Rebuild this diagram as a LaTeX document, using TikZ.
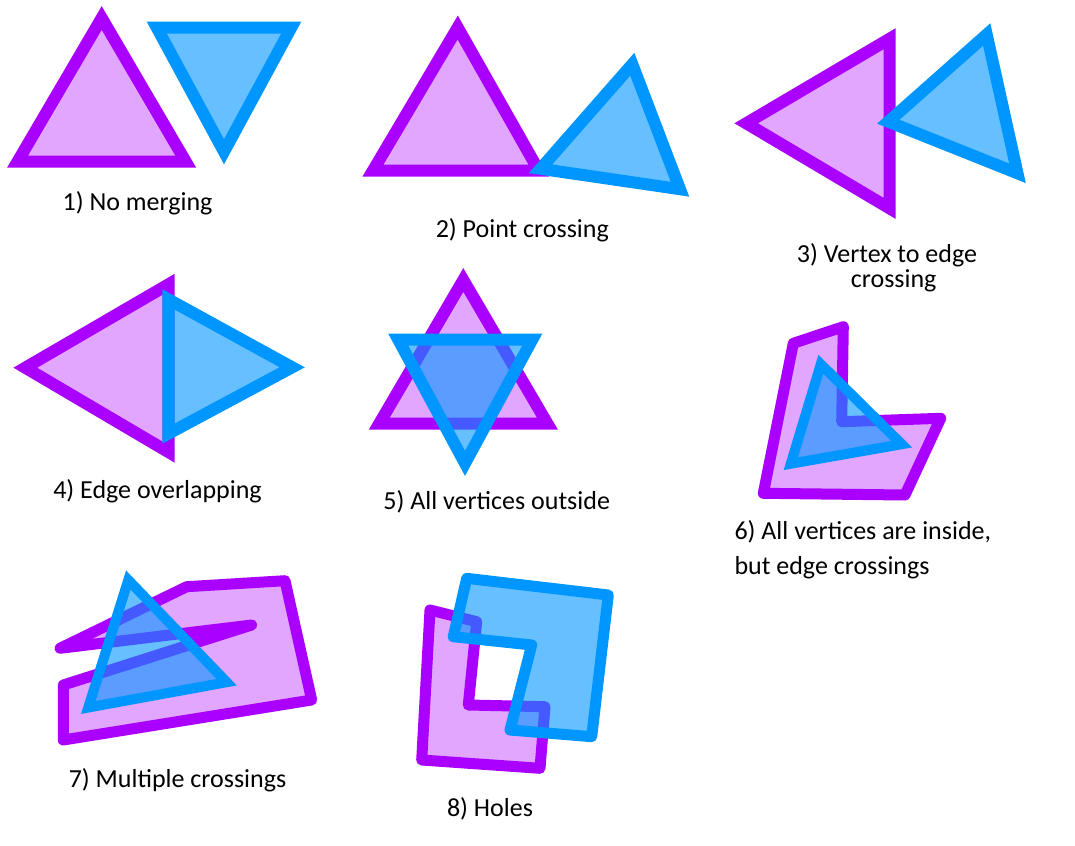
\documentclass[tikz,border=0pt]{standalone}
\usepackage{fontspec}
\setmainfont{Carlito}

\definecolor{polyPurple}{RGB}{170,0,255}
\definecolor{polyBlue}{RGB}{0,150,255}

\tikzset{every picture/.style={line width=0.75pt}}
\tikzset{
  purplePoly/.style={draw=polyPurple, fill=polyPurple, fill opacity=0.35, line width=9pt},
  bluePoly/.style={draw=polyBlue, fill=polyBlue, fill opacity=0.6, line width=9pt},
  roundPoly/.style={line width=8.25pt, line join=round},
  caseLabel/.style={inner sep=0.75pt, font=\fontsize{19.5}{26.25}\selectfont},
}

\begin{document}
\begin{tikzpicture}[x=0.75pt,y=0.75pt,yscale=-1,xscale=1]
\useasboundingbox (0,0) rectangle (1075,846);

%Case 1: two apart
\draw [purplePoly] (101.7,18) -- (185.8,161.7) -- (17.5,161.7) -- cycle ;
\draw [bluePoly] (156.7,27.5) -- (291.3,27.5) -- (224,151.7) -- cycle ;
%Case 2: touching at a point
\draw [purplePoly] (457.7,27.5) -- (538.7,170.5) -- (373,170.5) -- cycle ;
\draw [bluePoly] (632.3,64.2) -- (680,189.2) -- (540.5,168.8) -- cycle ;
%Case 3: vertex on edge
\draw [purplePoly] (889.5,38.8) -- (889.5,208.3) -- (746.2,123.3) -- cycle ;
\draw [bluePoly] (986.7,34.5) -- (1017.5,173.3) -- (888.3,121.7) -- cycle ;
%Case 4: shared edge
\draw [purplePoly] (168.7,284.2) -- (168.7,452.2) -- (25.3,367.7) -- cycle ;
\draw [bluePoly] (168.3,299.3) -- (292.2,367.3) -- (168.3,433.7) -- cycle ;
%Case 5: star
\draw [purplePoly] (463.3,280) -- (547.5,423.7) -- (379.2,423.7) -- cycle ;
\draw [bluePoly] (398.3,339.7) -- (532.2,339.7) -- (465,463.3) -- cycle ;
%Case 6: L shape
\draw [purplePoly, roundPoly] (843.3,326.7) -- (841.7,421.7) -- (940.7,418.3) -- (905,495) -- (763.3,493.3) -- (793.3,343.3) -- cycle ;
\draw [bluePoly, line width=7.5pt] (820.8,364.2) -- (901.7,444.2) -- (790.8,463.7) -- cycle ;
%Case 7: notched polygon
\draw [purplePoly, roundPoly] (60,648.3) -- (186.7,586.7) -- (285,580.7) -- (311.7,700) -- (63.3,740) -- (63.3,685) -- (251.7,625) -- cycle ;
\draw [bluePoly, line width=7.5pt] (128.3,580) -- (226.7,682.2) -- (88.3,707.5) -- cycle ;
%Case 8: hole
\draw [purplePoly, roundPoly] (430,610) -- (476.7,621.7) -- (468.3,705) -- (545,706.7) -- (540,768.3) -- (421.7,760) -- cycle ;
\draw [bluePoly, roundPoly] (466.7,578.3) -- (608.3,595) -- (591.7,736.7) -- (510,730) -- (531.7,645) -- (453.3,636.7) -- cycle ;

% Text Node
\node [caseLabel] (lblOne) at (137.5,203.5) {1) No merging};
% Text Node
\node [caseLabel] (lblTwo) at (522.3,230) {2) Point crossing};
% Text Node
\node [caseLabel, align=center, font=\fontsize{19.5}{18.75}\selectfont] (lblThree) at (887,268) {3) Vertex to edge\\\hspace*{10pt}crossing};
% Text Node
\node [caseLabel] (lblFour) at (157.5,491.5) {4) Edge overlapping};
% Text Node
\node [caseLabel] (lblFive) at (496.7,501.5) {5) All vertices outside};
% Text Node
\node [caseLabel, align=left, anchor=west] (lblSix) at (733,550) {6) All vertices are inside,\\but edge crossings};
% Text Node
\node [caseLabel] (lblSeven) at (177.5,780) {7) Multiple crossings};
% Text Node
\node [caseLabel] (lblEight) at (490,808.5) {8) Holes};

\end{tikzpicture}
\end{document}
